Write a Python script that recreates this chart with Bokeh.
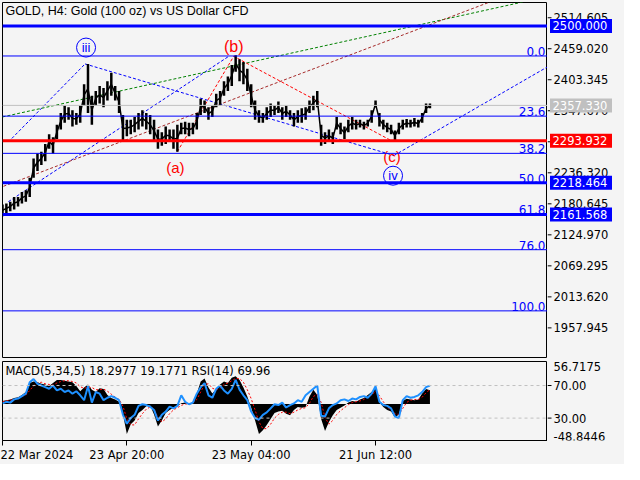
from bokeh.plotting import figure
from bokeh.models import Range1d, FixedTicker, Span, Label, ColumnDataSource
from bokeh.layouts import column, row
from bokeh.embed import file_html
from bokeh.resources import INLINE
from bokeh.core.properties import value

# ---------------- data ----------------
bar_idx = list(range(0, 441, 4))
price_high = [2179.2, 2181.0, 2184.4, 2193.1, 2193.1, 2201.7, 2205.2, 2227.6, 2262.2, 2270.9,
              2274.3, 2288.1, 2305.4, 2300.2, 2322.7, 2343.5, 2357.3, 2353.9, 2348.7, 2343.5,
              2357.3, 2395.3, 2431.7, 2374.6, 2383.2, 2391.9, 2388.4, 2400.5, 2416.1, 2391.9,
              2383.2, 2340.0, 2331.4, 2331.4, 2336.6, 2343.5, 2348.7, 2343.5, 2340.0, 2331.4,
              2314.0, 2308.9, 2319.3, 2314.0, 2314.0, 2322.7, 2326.2, 2327.9, 2326.2, 2326.2,
              2343.5, 2369.4, 2366.0, 2353.9, 2357.3, 2378.1, 2383.2, 2400.5, 2409.2, 2429.9,
              2447.2, 2440.3, 2435.1, 2423.0, 2395.3, 2366.0, 2348.7, 2343.5, 2353.9, 2360.8,
              2357.3, 2364.2, 2353.9, 2357.3, 2348.7, 2343.5, 2348.7, 2352.1, 2353.9, 2366.0,
              2374.6, 2383.2, 2322.7, 2308.9, 2314.0, 2308.9, 2336.6, 2326.2, 2319.3, 2331.4,
              2336.6, 2331.4, 2331.4, 2327.9, 2331.4, 2348.7, 2366.0, 2343.5, 2331.4, 2326.2,
              2322.7, 2312.3, 2326.2, 2331.4, 2333.1, 2331.4, 2334.8, 2331.4, 2343.5, 2360.8,
              2360.8]
price_low = [2158.5, 2163.7, 2167.1, 2170.6, 2175.8, 2181.0, 2184.4, 2193.1, 2227.6, 2239.7,
             2250.1, 2257.0, 2279.5, 2270.9, 2296.8, 2314.0, 2326.2, 2331.4, 2319.3, 2322.7,
             2326.2, 2357.3, 2343.5, 2322.7, 2357.3, 2360.8, 2353.9, 2366.0, 2374.6, 2366.0,
             2343.5, 2291.6, 2302.0, 2305.4, 2308.9, 2314.0, 2319.3, 2314.0, 2305.4, 2291.6,
             2279.5, 2284.7, 2288.1, 2291.6, 2279.5, 2274.3, 2305.4, 2305.4, 2302.0, 2305.4,
             2314.0, 2340.0, 2343.5, 2331.4, 2336.6, 2353.9, 2357.3, 2374.6, 2383.2, 2391.9,
             2417.8, 2400.5, 2395.3, 2383.2, 2353.9, 2331.4, 2326.2, 2326.2, 2331.4, 2336.6,
             2340.0, 2343.5, 2331.4, 2336.6, 2331.4, 2319.3, 2326.2, 2326.2, 2331.4, 2343.5,
             2348.7, 2353.9, 2284.7, 2288.1, 2291.6, 2288.1, 2314.0, 2305.4, 2296.8, 2308.9,
             2314.0, 2314.0, 2317.5, 2314.0, 2319.3, 2326.2, 2353.9, 2319.3, 2314.0, 2308.9,
             2305.4, 2293.3, 2305.4, 2314.0, 2317.5, 2317.5, 2319.3, 2317.5, 2326.2, 2343.5,
             2352.1]
macd_main = [4, 5, 6, 8, 9, 12, 16, 28, 30, 29, 27, 26, 24, 28, 32, 32, 31, 30, 29, 24,
             17, 22, 26, 19, 16, 21, 20, 12, 8, 6, 3, -14, -40, -27, -22, -12, -8, -3, -2, -14,
             -30, -22, -12, -8, -5, -3, 1, 2, -1, 3, 14, 30, 34, 22, 14, 20, 26, 30, 28, 35,
             37, 32, 22, 10, -5, -22, -40, -35, -28, -20, -12, -10, -9, -13, -15, -8, -4, -5, -4, 10,
             19, 12, -20, -36, -24, -15, -8, -5, -2, 2, 4, 3, 6, 8, 12, 16, 21, 2, -4, -8,
             -10, -18, -14, 4, 7, 6, 5, 6, 14, 20, 18.2977]
macd_signal = [3, 4, 5, 6, 8, 10, 12, 18, 24, 28, 29, 27, 26, 25, 28, 30, 31, 31, 30, 28,
               23, 21, 22, 22, 19, 19, 20, 17, 13, 9, 6, -3, -20, -28, -28, -20, -13, -7, -4, -7,
               -18, -24, -20, -13, -8, -5, -2, 0, 0, 1, 6, 16, 26, 27, 21, 19, 21, 26, 28, 31,
               34, 34, 29, 19, 7, -8, -24, -33, -33, -27, -19, -14, -11, -11, -13, -11, -8, -6, -5, 1,
               10, 13, 2, -18, -27, -22, -14, -9, -5, -1, 2, 3, 4, 6, 9, 12, 17, 11, 3, -4,
               -8, -13, -14, -6, 2, 5, 6, 6, 9, 15, 19.1771]
rsi_vals = [48, 50, 49, 53, 54, 57, 60, 74, 78, 72, 70, 68, 66, 70, 64, 66, 62, 64, 60, 63,
            58, 52, 69, 49, 62, 60, 52, 55, 57, 55, 52, 34, 23, 30, 34, 45, 47, 46, 44, 40,
            27, 34, 38, 44, 42, 45, 58, 50, 47, 49, 60, 68, 73, 58, 55, 66, 70, 64, 60, 66,
            77, 65, 58, 52, 38, 30, 28, 34, 37, 42, 47, 46, 49, 43, 46, 48, 52, 50, 58, 62,
            66, 70, 33, 32, 42, 46, 48, 52, 53, 51, 54, 53, 56, 57, 55, 60, 69, 50, 46, 45,
            42, 32, 30, 52, 57, 55, 56, 58, 62, 68, 69.96]

x_tick_pos = [0, 128, 256, 384]
x_tick_labels = ["22 Mar 2024", "23 Apr 20:00", "23 May 04:00", "21 Jun 12:00"]
price_ticks = [2514.605, 2459.020, 2403.345, 2347.670, 2291.995, 2236.320, 2180.645,
               2124.970, 2069.295, 2013.620, 1957.945]

fib_high = 2446.0
fib_low = 1988.5
fib_levels = [0.0, 23.6, 38.2, 50.0, 61.8, 76.0, 100.0]

hline_prices = [2500.000, 2293.932, 2218.464, 2161.568]
hline_colors = ["#0000ff", "#ff0000", "#0000ff", "#0000ff"]
current_price = 2357.330

# trend lines (bar index, price)
tl_x0 = [6, 6, 85, 403, 0, 1]
tl_y0 = [2291.6, 2184.4, 2431.7, 2267.4, 2336.6, 2212.1]
tl_x1 = [85, 233, 403, 561, 561, 561]
tl_y1 = [2431.7, 2445.5, 2267.4, 2426.5, 2552.7, 2582.1]
tl_col = ["#0000ff", "#0000ff", "#0000ff", "#0000ff", "#008000", "#a52a2a"]

abc_x = [180, 238, 401]
abc_y = [2274.3, 2445.5, 2293.3]

wave_text = ["iii", "(b)", "(a)", "(c)", "iv"]
wave_x = [86, 238, 178, 401, 402]
wave_y = [2461.1, 2462.8, 2246.6, 2265.7, 2231.1]
wave_col = ["#0000ff", "#ff0000", "#ff0000", "#ff0000", "#0000ff"]
wave_size = ["13px", "16px", "15px", "15px", "13px"]
circled_x = [86, 402]
circled_y = [2461.1, 2231.1]

macd_lo, macd_hi = -48.8446, 56.7175
rsi_lo, rsi_hi = 2.5, 99.5
rsi_levels = [70, 30]

BG = "#f4f4f4"
X_END = 561
AX_FONT = "DejaVu Sans"
AX_SIZE = "11.5px"
CHART_W = 547
AXIS_W = 77
MAIN_H = 358
SUB_H = 106


def base_fig(width, height, x_range, y_range, top, bottom, left):
    f = figure(width=width, height=height, output_backend="svg", toolbar_location=None,
               x_range=x_range, y_range=y_range, x_axis_location=None, y_axis_location=None,
               min_border_left=left, min_border_right=0, min_border_top=top,
               min_border_bottom=bottom)
    f.background_fill_color = BG
    f.border_fill_color = BG
    f.grid.visible = False
    return f


xr = Range1d(0, X_END)

# ---------------- main price panel ----------------
p = base_fig(CHART_W, MAIN_H, xr, Range1d(1903, 2542), 2, 0, 2)
p.outline_line_color = "black"

fib_prices = [fib_high - lv / 100.0 * (fib_high - fib_low) for lv in fib_levels]
for fp in fib_prices:
    p.add_layout(Span(location=fp, dimension="width", line_color="#0000ff", line_width=1))
p.text(x=[X_END] * len(fib_prices), y=fib_prices, text=["%.1f" % v for v in fib_levels],
       text_align="right", text_baseline="bottom", x_offset=-2,
       text_color="#0000ff", text_font=value(AX_FONT), text_font_size="12px")

p.add_layout(Span(location=current_price, dimension="width", line_color="#c0c0c0", line_width=1))
for hp, hc in zip(hline_prices, hline_colors):
    p.add_layout(Span(location=hp, dimension="width", line_color=hc, line_width=3))

p.segment(x0=tl_x0, y0=tl_y0, x1=tl_x1, y1=tl_y1, line_color=tl_col,
          line_width=1, line_dash="3 2")
p.line(abc_x, abc_y, line_color="#ff0000", line_width=1, line_dash="3 2")

src = ColumnDataSource(dict(x=bar_idx, hi=price_high, lo=price_low,
                            mid=[(h + l) / 2 for h, l in zip(price_high, price_low)]))
p.segment(x0="x", y0="lo", x1="x", y1="hi", source=src, line_color="black", line_width=2.5)
p.line("x", "mid", source=src, line_color="black", line_width=1.5)

p.scatter(circled_x, circled_y, marker="circle", size=19, fill_color=None,
          line_color="#0000ff", line_width=1)
for t, wx, wy, wc, ws in zip(wave_text, wave_x, wave_y, wave_col, wave_size):
    p.text(x=[wx], y=[wy], text=[t], text_align="center", text_baseline="middle",
           text_color=wc, text_font=value("Liberation Sans"), text_font_size=ws)

p.add_layout(Label(x=3, y=2527, text="GOLD, H4:  Gold (100 oz) vs US Dollar CFD",
                   text_baseline="middle", text_font="Liberation Sans",
                   text_font_size="12.5px", text_color="black"))

# ---------------- main price scale (right) ----------------
pa = base_fig(AXIS_W, MAIN_H, Range1d(0, AXIS_W), p.y_range, 2, 0, 0)
pa.outline_line_color = None
pa.segment(x0=[0] * len(price_ticks), y0=price_ticks, x1=[4] * len(price_ticks), y1=price_ticks,
           line_color="black", line_width=1)
pa.text(x=[6] * len(price_ticks), y=price_ticks, text=["%.3f" % t for t in price_ticks],
        text_align="left", text_baseline="middle", text_color="black",
        text_font=value(AX_FONT), text_font_size=AX_SIZE)
tag_prices = hline_prices + [current_price]
tag_colors = hline_colors + ["#c0c0c0"]
pa.rect(x=[33.5] * len(tag_prices), y=tag_prices, width=62, height=14, height_units="screen",
        fill_color=tag_colors, line_color=None)
pa.text(x=[5] * len(tag_prices), y=tag_prices, text=["%.3f" % t for t in tag_prices],
        text_align="left", text_baseline="middle", text_color="white",
        text_font=value(AX_FONT), text_font_size=AX_SIZE)

# ---------------- MACD / RSI panel ----------------
q = base_fig(CHART_W, SUB_H, xr, Range1d(macd_lo, macd_hi), 3, 24, 2)
q.outline_line_color = "black"
q.extra_y_ranges = {"rsi": Range1d(rsi_lo, rsi_hi)}
for lv in rsi_levels:
    q.add_layout(Span(location=lv, dimension="width", y_range_name="rsi",
                      line_color="#c0c0c0", line_width=1, line_dash="3 3"))
q.varea(x=bar_idx, y1=[0] * len(bar_idx), y2=macd_main, fill_color="black")
q.line(bar_idx, macd_signal, line_color="#ff0000", line_width=1, line_dash="2 2")
q.line(bar_idx, rsi_vals, y_range_name="rsi", line_color="#1e90ff", line_width=2)
q.add_layout(Label(x=3, y=macd_hi, y_offset=-9,
                   text="MACD(5,34,5) %.4f %.4f RSI(14) %.2f" % (macd_main[-1], macd_signal[-1], rsi_vals[-1]),
                   text_baseline="middle", text_font=AX_FONT, text_font_size="11.5px",
                   text_color="black"))

from bokeh.models import LinearAxis
xa = LinearAxis(ticker=FixedTicker(ticks=x_tick_pos))
xa.major_label_overrides = dict(zip(x_tick_pos, x_tick_labels))
xa.major_label_text_align = "left"
xa.major_tick_out = 5
xa.major_tick_in = 0
xa.minor_tick_out = 0
xa.minor_tick_in = 0
xa.major_label_standoff = 2
xa.axis_line_color = "black"
xa.major_label_text_font = AX_FONT
xa.major_label_text_font_size = "11.5px"
xa.major_label_text_color = "black"
q.add_layout(xa, "below")

# ---------------- MACD scale (right) ----------------
qa = base_fig(AXIS_W, SUB_H, Range1d(0, AXIS_W), q.y_range, 3, 24, 0)
qa.outline_line_color = None
qa.extra_y_ranges = {"rsi": q.extra_y_ranges["rsi"]}
qa.segment(x0=[0, 0], y0=rsi_levels, x1=[4, 4], y1=rsi_levels, y_range_name="rsi",
           line_color="black", line_width=1)
qa.text(x=[6, 6], y=rsi_levels, text=["%.2f" % v for v in rsi_levels], y_range_name="rsi",
        text_align="left", text_baseline="middle", text_color="black",
        text_font=value(AX_FONT), text_font_size=AX_SIZE)
qa.text(x=[6, 6], y=[macd_hi, macd_lo], text=["%.4f" % macd_hi, "%.4f" % macd_lo],
        text_align="left", text_baseline=["top", "bottom"], text_color="black",
        text_font=value(AX_FONT), text_font_size=AX_SIZE)

layout = column(row(p, pa, spacing=0), row(q, qa, spacing=0), spacing=0)
layout.styles = {"background-color": BG}
open("out.html", "w").write(file_html(layout, INLINE))
